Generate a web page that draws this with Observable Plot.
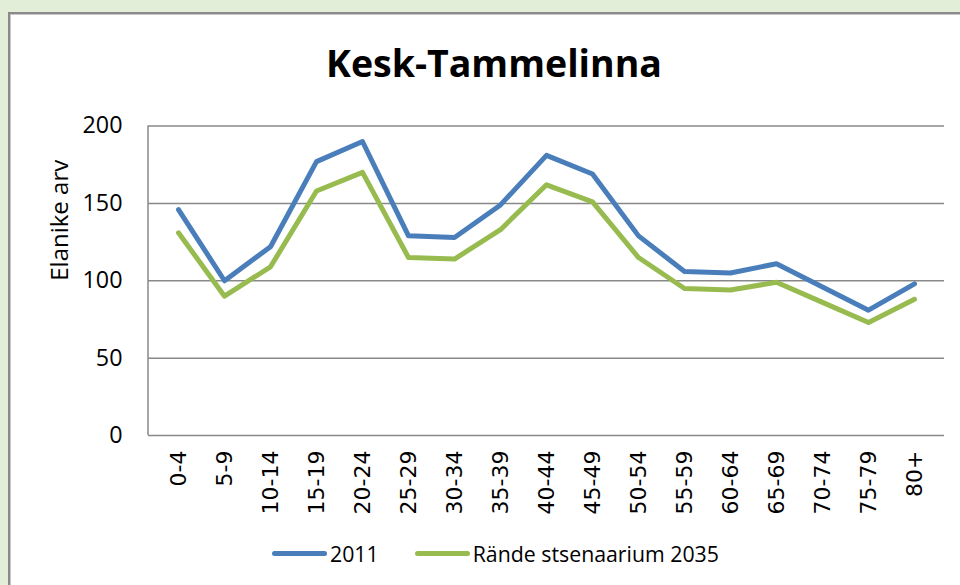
<!DOCTYPE html>
<html>
<head>
<meta charset="utf-8">
<script src="https://cdn.jsdelivr.net/npm/d3@7"></script>
<script src="https://cdn.jsdelivr.net/npm/@observablehq/plot@0.6"></script>
<style>
  html, body { margin: 0; padding: 0; }
  body { width: 960px; height: 585px; position: relative; overflow: hidden; background: #e2eed8; }
  #panel { position: absolute; left: 8px; top: 12px; width: 1000px; height: 620px; background: #fff;
           border-left: 2px solid #8a8a8a; border-top: 2px solid #8a8a8a; box-shadow: inset 1px 1px 0 #c8c8c8; }
  #chart { position: absolute; left: 0; top: 0; }
  #title { position: absolute; left: 494px; top: 43.5px; transform: translateX(-50%); white-space: nowrap;
           font-family: "Open Sans", sans-serif; font-weight: 700; font-size: 37.5px; line-height: 1; color: #000; }
  #legend { position: absolute; left: 272px; top: 543px; display: flex; align-items: center; white-space: nowrap;
            font-family: "Open Sans", sans-serif; font-size: 21.3px; line-height: 1; color: #000; }
  .sw { display: inline-block; width: 55px; height: 5px; border-radius: 3px; margin-right: 3px; }
  .item { display: flex; align-items: center; margin-right: 36px; }
  #chart g[aria-label="y-axis tick label"] { font-family: "Open Sans", sans-serif !important; font-size: 23.3px !important; }
  #chart g[aria-label="text"] { font-family: "Open Sans", sans-serif !important; font-size: 24px !important; }
</style>
</head>
<body>
<div id="panel"></div>
<div id="chart"></div>
<div id="title"></div>
<div id="legend"></div>
<script>
const chartTitle = "Kesk-Tammelinna";
const yTitle = "Elanike arv";
const categories = ["0-4","5-9","10-14","15-19","20-24","25-29","30-34","35-39","40-44","45-49","50-54","55-59","60-64","65-69","70-74","75-79","80+"];
const seriesNames = ["2011", "Rände stsenaarium 2035"];
const seriesColors = ["#4a7ebb", "#98bb50"];
const values2011 = [146,100,122,177,190,129,128,149,181,169,129,106,105,111,96,81,98];
const values2035 = [131,90,109,158,170,115,114,133,162,151,115,95,94,99,86,73,88];
const yTicks = [0, 50, 100, 150, 200];

const rows = [];
[values2011, values2035].forEach((vals, s) => {
  vals.forEach((v, i) => rows.push({cat: categories[i], value: v, series: seriesNames[s]}));
});

const leftAxisLine = (index, scales, values, dims) => {
  const ns = "http://www.w3.org/2000/svg";
  const l = document.createElementNS(ns, "line");
  l.setAttribute("x1", dims.marginLeft);
  l.setAttribute("x2", dims.marginLeft);
  l.setAttribute("y1", dims.marginTop);
  l.setAttribute("y2", dims.height - dims.marginBottom);
  l.setAttribute("stroke", "#888");
  l.setAttribute("stroke-width", 1.5);
  return l;
};

const plot = Plot.plot({
  width: 960,
  height: 585,
  marginLeft: 148,
  marginRight: 16,
  marginTop: 125.5,
  marginBottom: 150,
  style: {background: "transparent", color: "#000"},
  x: {type: "point", domain: categories, padding: 0.5},
  y: {domain: [0, 200]},
  color: {domain: seriesNames, range: seriesColors},
  marks: [
    Plot.ruleY(yTicks, {stroke: "#888", strokeWidth: 1.5, strokeOpacity: 1}),
    leftAxisLine,
    Plot.axisY({ticks: yTicks, tickSize: 0, tickPadding: 26, fontSize: 23.3, fontFamily: "Open Sans", label: null}),
    Plot.axisX({tickSize: 0, tickRotate: -90, tickPadding: 15, fontSize: 22, fontFamily: "DejaVu Sans", label: null}),
    Plot.text([yTitle], {frameAnchor: "left", rotate: -90, dx: -88, fontSize: 24, fontFamily: "Open Sans", fill: "#000"}),
    Plot.line(rows, {x: "cat", y: "value", z: "series", stroke: "series", strokeWidth: 5, strokeLinejoin: "round", strokeLinecap: "round"})
  ]
});
document.getElementById("chart").appendChild(plot);
d3.select(plot).selectAll("text").each(function() {
  const lab = this.textContent;
  if (categories.includes(lab)) {
    this.style.fontFamily = '"DejaVu Sans", sans-serif';
    this.style.fontSize = "22px";
  }
});
document.getElementById("title").textContent = chartTitle;

const legend = document.getElementById("legend");
seriesNames.forEach((name, i) => {
  const item = document.createElement("span");
  item.className = "item";
  const sw = document.createElement("span");
  sw.className = "sw";
  sw.style.background = seriesColors[i];
  const t = document.createElement("span");
  t.textContent = name;
  item.appendChild(sw);
  item.appendChild(t);
  legend.appendChild(item);
});
</script>
</body>
</html>
